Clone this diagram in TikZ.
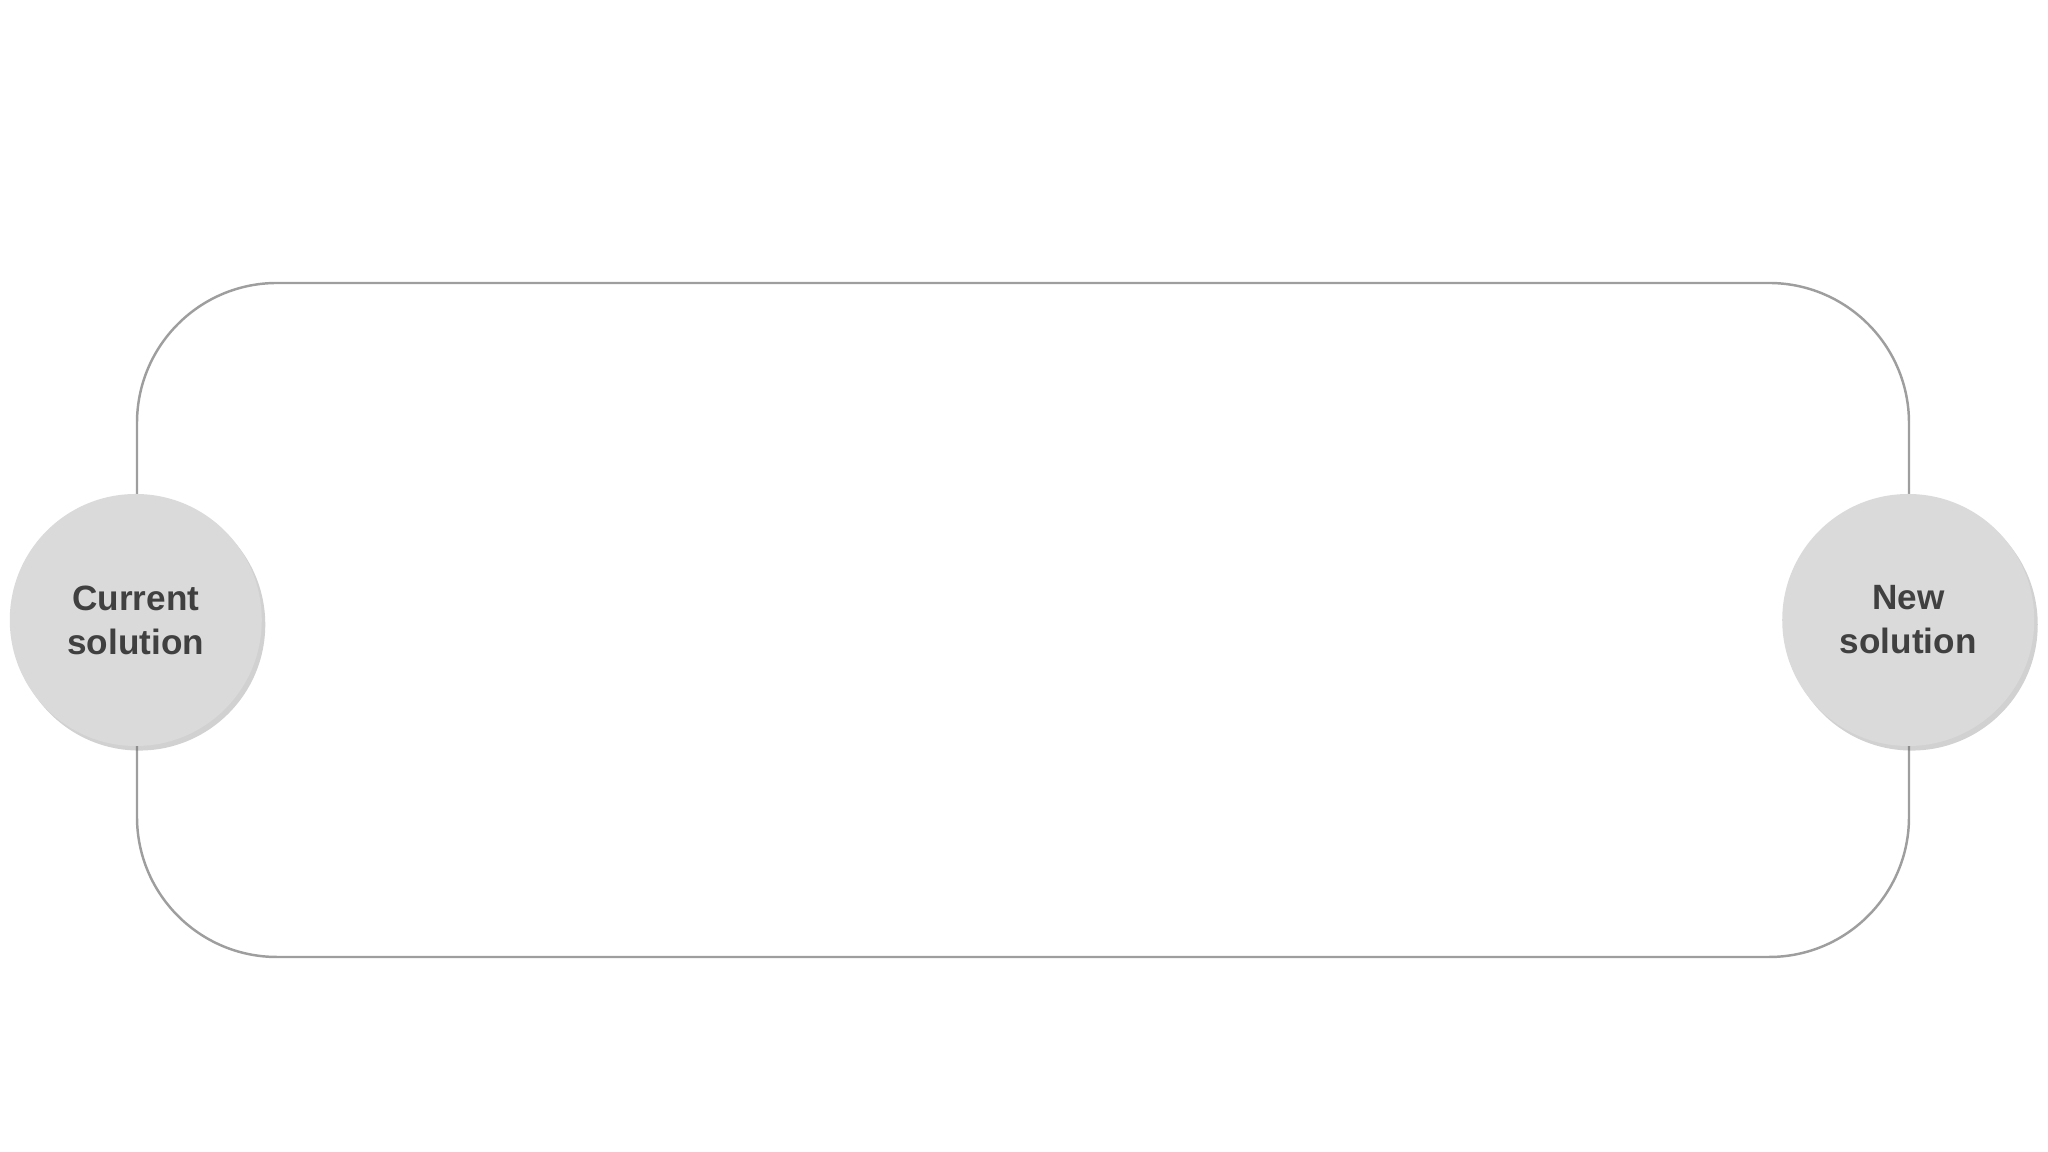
\documentclass[tikz,border=0pt]{standalone}
\usepackage{fontspec}
\usepackage{xcolor}
\usepackage{tikz}
\setmainfont{Liberation Sans}
\usetikzlibrary{shapes.geometric, shadows, positioning, calc}
\definecolor{framegray}{HTML}{9E9E9E}
\definecolor{discfill}{HTML}{DADADA}
\definecolor{labeltext}{HTML}{404040}
\tikzset{
  loopframe/.style={draw=framegray, line width=0.7pt, rounded corners=1.4cm,
    minimum width=17.72cm, minimum height=6.74cm, inner sep=0pt},
  endpoint/.style={circle, fill=discfill, minimum size=2.52cm, inner sep=0pt,
    align=center, text=labeltext, font=\fontsize{10}{12.5}\selectfont\bfseries,
    drop shadow={opacity=0.3, fill=black!60, shadow xshift=1pt, shadow yshift=-1.3pt}}
}

\begin{document}
\begin{tikzpicture}
  \useasboundingbox (0,0) rectangle (20.48,11.52);
  \node[loopframe] (frame) at (10.23,5.32) {};
  % the two ends sit on the frame's sides
  \node[endpoint] (current) at (frame.west) {Current\\solution};
  \node[endpoint] (new) at ([xshift=-0.02cm]frame.east) {New\\solution};
\end{tikzpicture}
\end{document}
